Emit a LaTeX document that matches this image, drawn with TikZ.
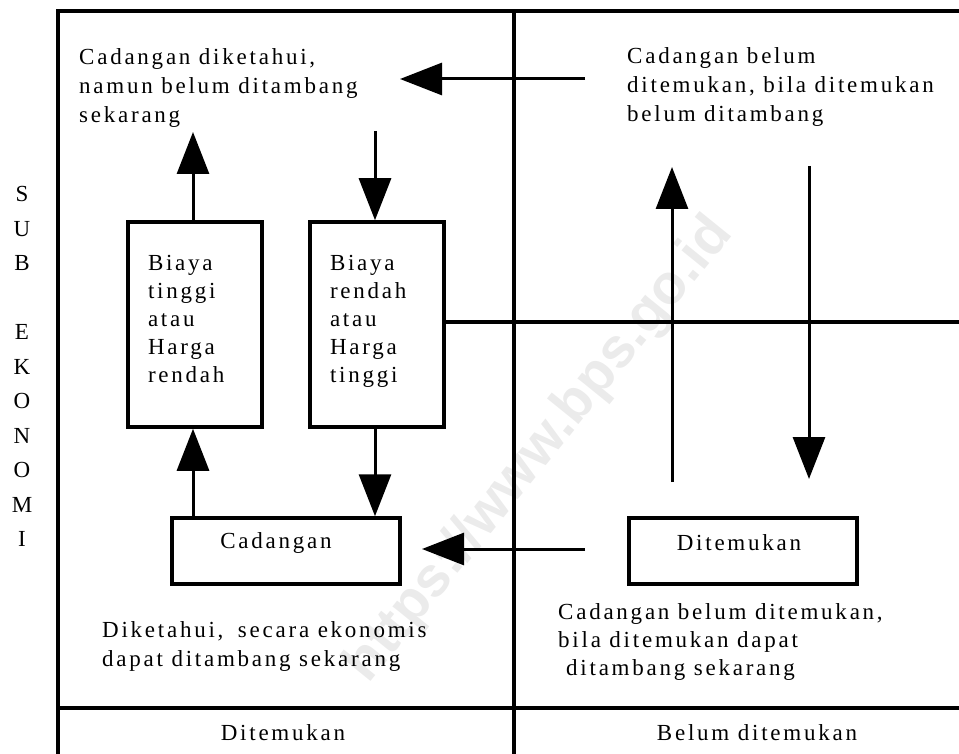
\documentclass[tikz,border=0pt]{standalone}
\usepackage{fontspec}
\setmainfont{Liberation Serif}
\newfontfamily\trk[LetterSpace=12]{Liberation Serif}
\newfontfamily\wmfont{Liberation Sans}
\usetikzlibrary{arrows.meta}
\tikzset{
  frameline/.style={line width=3.3pt},
  boxnode/.style={draw, line width=3.5pt, inner sep=0pt},
  arr/.style={line width=3pt, -{Triangle[length=42pt,width=32pt]}},
  txt/.style={font=\trk\fontsize{23}{29}\selectfont, inner sep=0pt, align=left, anchor=west},
  boxtxt/.style={font=\trk\fontsize{23}{28}\selectfont, align=left},
}
\newcommand\lastdepth{\rule[-11pt]{0pt}{1pt}}
\begin{document}
\begin{tikzpicture}[x=1pt,y=-1pt]
\useasboundingbox (0,0) rectangle (959,754);
% watermark
\node[font=\wmfont\bfseries\fontsize{56}{56}\selectfont, text=black!8, rotate=51] (wm) at (540,450) {https://www.bps.go.id};
% frame
\coordinate (tl) at (58,11);
\coordinate (tr) at (959,11);
\coordinate (bl) at (58,754);
\coordinate (mt) at (514,11);
\coordinate (mb) at (514,754);
\coordinate (rl) at (58,708);
\coordinate (rr) at (959,708);
\coordinate (hr) at (959,322);
\draw[frameline] (bl) -- (tl) -- (tr);
\draw[frameline] (mt) -- (mb);
\draw[frameline] (rl) -- (rr);
% boxes
\node[boxnode, boxtxt, minimum width=134pt, minimum height=205pt, text width=94pt] (b1) at (195,324.5) {Biaya\\tinggi\\atau\\Harga\\rendah\lastdepth};
\node[boxnode, boxtxt, minimum width=134pt, minimum height=205pt, text width=94pt] (b2) at (377,324.5) {Biaya\\rendah\\atau\\Harga\\tinggi\lastdepth};
\node[boxnode, minimum width=228pt, minimum height=66pt] (cad) at (286,551) {};
\node[boxnode, minimum width=228pt, minimum height=66pt] (dit) at (743,551) {};
\node[font=\trk\fontsize{23}{28}\selectfont, inner sep=0pt] (cadt) at (276,543) {Cadangan};
\node[font=\trk\fontsize{23}{28}\selectfont, inner sep=0pt] (ditt) at (739,543) {Ditemukan};
\draw[frameline] (b2.east |- hr) -- (hr);
% texts
\node[txt] (tlt) at (79,88) {Cadangan diketahui,\\namun belum ditambang\\sekarang};
\node[txt] (trt) at (627,87) {Cadangan belum\\ditemukan, bila ditemukan\\belum ditambang};
\node[txt] (blt) at (102,646) {Diketahui,\hspace{6pt} secara ekonomis\\dapat ditambang sekarang};
\node[txt, font=\trk\fontsize{23}{28}\selectfont] (brt) at (558,642) {Cadangan belum ditemukan,\\bila ditemukan dapat\\\hspace{8pt}ditambang sekarang};
\node[font=\trk\fontsize{23}{29}\selectfont, inner sep=0pt] (row1) at (283,733) {Ditemukan};
\node[font=\trk\fontsize{23}{29}\selectfont, inner sep=0pt] (row2) at (757,733) {Belum ditemukan};
\node[font=\fontsize{23}{34.5}\selectfont, inner sep=0pt, align=center] (sub) at (22,366.5) {S\\U\\B\\\mbox{}\\E\\K\\O\\N\\O\\M\\I};
% arrows
\coordinate (a1) at (193,132);
\coordinate (a2) at (375,131);
\coordinate (a3s) at (585,79);
\coordinate (a3e) at (400,79);
\coordinate (a4s) at (672,482);
\coordinate (a4e) at (672,167);
\coordinate (a5s) at (809,166);
\coordinate (a5e) at (809,479);
\coordinate (a8s) at (585,549);
\coordinate (a8e) at (422,549);
\draw[arr] (b1.north -| a1) -- (a1);
\draw[arr] (a2) -- (b2.north -| a2);
\draw[arr] (cad.north -| a1) -- (b1.south -| a1);
\draw[arr] (b2.south -| a2) -- (cad.north -| a2);
\draw[arr] (a3s) -- (a3e);
\draw[arr] (a4s) -- (a4e);
\draw[arr] (a5s) -- (a5e);
\draw[arr] (a8s) -- (a8e);
\end{tikzpicture}
\end{document}
